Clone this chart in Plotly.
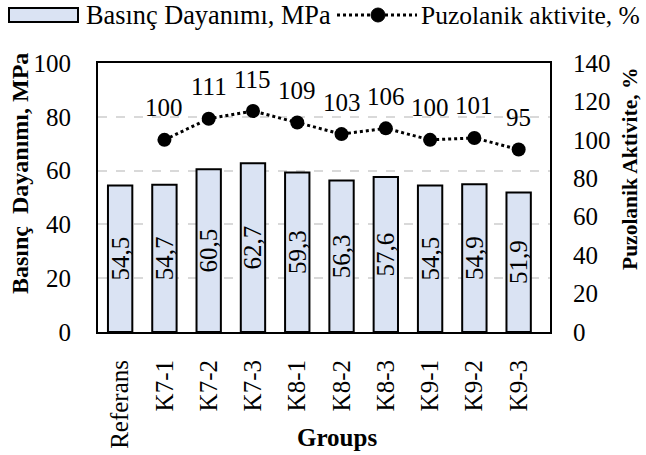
import plotly.graph_objects as go

groups = ["Referans", "K7-1", "K7-2", "K7-3", "K8-1", "K8-2", "K8-3", "K9-1", "K9-2", "K9-3"]
strength = [54.5, 54.7, 60.5, 62.7, 59.3, 56.3, 57.6, 54.5, 54.9, 51.9]
act_groups = ["K7-1", "K7-2", "K7-3", "K8-1", "K8-2", "K8-3", "K9-1", "K9-2", "K9-3"]
activity = [100, 111, 115, 109, 103, 106, 100, 101, 95]

FONT = "Times New Roman"
FS = 25
BAR_COLOR = "#DAE3F3"

# plot area in pixels: left 98, right 550, top 63, bottom 332
L, R, T, B = 98, 96, 63, 123
PW, PH = 646 - L - R, 455 - T - B


def px(x):
    return (x - L) / PW


def py(y):
    return (455 - B - y) / PH


fig = go.Figure()
fig.add_trace(go.Bar(
    x=groups, y=strength, name="Basınç Dayanımı, MPa",
    marker=dict(color=BAR_COLOR, line=dict(color="black", width=2)),
    width=0.55,
    texttemplate="%{y:.1f}", textposition="inside", insidetextanchor="middle",
    textangle=-90, constraintext="none",
    textfont=dict(family=FONT, size=FS, color="black"),
    insidetextfont=dict(family=FONT, size=FS, color="black"),
    showlegend=False,
))
fig.add_trace(go.Scatter(
    x=act_groups, y=activity, name="Puzolanik aktivite, %", yaxis="y2",
    mode="lines+markers",
    line=dict(color="black", width=3, dash="dot"),
    marker=dict(color="black", size=14),
    showlegend=False,
))

annotations = [
    dict(x=g, y=v, xref="x", yref="y2", text=str(v), showarrow=False,
         yanchor="middle", yshift=32, font=dict(family=FONT, size=FS, color="black"))
    for g, v in zip(act_groups, activity)
]
annotations += [
    dict(text="<b>Groups</b>", xref="paper", yref="paper", x=px(337), y=py(437),
         xanchor="center", yanchor="middle", showarrow=False,
         font=dict(family=FONT, size=FS, color="black")),
    dict(text="<b>Basınç\u00a0 Dayanımı, MPa</b>", xref="paper", yref="paper",
         x=px(20), y=py(174), textangle=-90, xanchor="center", yanchor="middle",
         showarrow=False, font=dict(family=FONT, size=24, color="black")),
    dict(text="<b>Puzolanik Aktivite, %</b>", xref="paper", yref="paper",
         x=px(630), y=py(169), textangle=-90, xanchor="center", yanchor="middle",
         showarrow=False, font=dict(family=FONT, size=21.5, color="black")),
    # legend texts
    dict(text="Basınç Dayanımı, MPa", xref="paper", yref="paper", x=px(84), y=py(15),
         xanchor="left", yanchor="middle", showarrow=False,
         font=dict(family=FONT, size=26.3, color="black")),
    dict(text="Puzolanik aktivite, %", xref="paper", yref="paper", x=px(419), y=py(15),
         xanchor="left", yanchor="middle", showarrow=False,
         font=dict(family=FONT, size=25.5, color="black")),
]

shapes = [
    dict(type="rect", xref="paper", yref="paper", x0=px(9), x1=px(78), y0=py(22), y1=py(8),
         fillcolor=BAR_COLOR, line=dict(color="black", width=2)),
    dict(type="line", xref="paper", yref="paper", x0=px(337), x1=px(417), y0=py(15), y1=py(15),
         line=dict(color="black", width=3, dash="dot")),
    dict(type="circle", xref="paper", yref="paper", x0=px(371), x1=px(385), y0=py(22), y1=py(8),
         fillcolor="black", line=dict(color="black", width=1)),
]

fig.update_layout(
    width=646, height=455,
    margin=dict(l=L, r=R, t=T, b=B, autoexpand=False),
    paper_bgcolor="white", plot_bgcolor="white",
    separators=", ",
    font=dict(family=FONT, size=FS, color="black"),
    showlegend=False,
    xaxis=dict(
        tickangle=-90, tickfont=dict(family=FONT, size=FS),
        showline=True, linecolor="black", linewidth=2, mirror=True,
        ticks="", ticklabelstandoff=16, automargin=False,
    ),
    yaxis=dict(
        range=[0, 100], dtick=20, tickfont=dict(family=FONT, size=FS),
        showline=True, linecolor="black", linewidth=2, mirror=True,
        showgrid=True, gridcolor="#D9D9D9", griddash="dash", gridwidth=1.5,
        zeroline=False, automargin=False, ticks="", ticklabelstandoff=20,
    ),
    yaxis2=dict(
        range=[0, 140], dtick=20, overlaying="y", side="right",
        tickfont=dict(family=FONT, size=FS), showgrid=False, zeroline=False,
        automargin=False, ticks="", ticklabelstandoff=22,
    ),
    annotations=annotations,
    shapes=shapes,
)

fig.write_html("out.html", config={"displayModeBar": False},
               post_script="document.body.style.margin='0';document.body.style.overflow='hidden';")
